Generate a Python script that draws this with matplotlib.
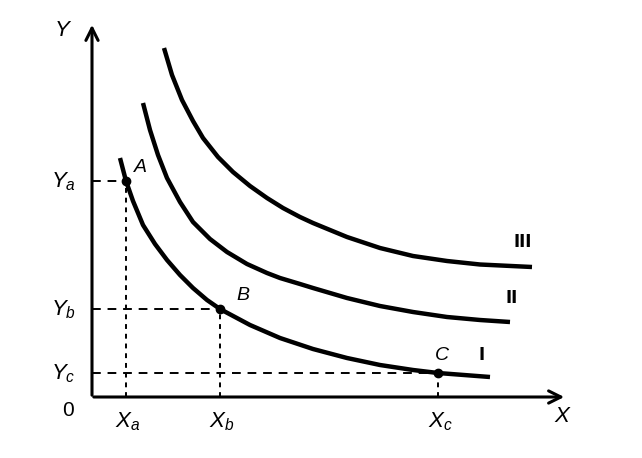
import matplotlib
matplotlib.use("Agg")
import matplotlib.pyplot as plt

plt.rcParams['font.family'] = ['Liberation Sans', 'DejaVu Sans']
plt.rcParams['mathtext.fontset'] = 'custom'
plt.rcParams['mathtext.it'] = 'Liberation Sans:italic'
plt.rcParams['mathtext.rm'] = 'Liberation Sans'

# Indifference curves (origin at axes crossing)
curve_I_x = [28, 34, 41, 51, 63, 75, 88, 101, 115, 128, 158, 188, 221, 255, 288, 321, 346, 398]
curve_I_y = [239, 216, 196, 172, 153, 137, 122, 109, 97, 88, 72, 59, 48, 39, 32, 27, 24, 20]

curve_II_x = [51, 58, 66, 75, 88, 101, 118, 135, 155, 175, 188, 208, 221, 255, 288, 321, 355, 388, 418]
curve_II_y = [294, 267, 242, 219, 195, 175, 158, 145, 133, 124, 119, 113, 109, 99, 91, 85, 80, 77, 75]

curve_III_x = [72, 80, 90, 101, 111, 126, 141, 158, 175, 191, 208, 221, 255, 288, 321, 355, 388, 440]
curve_III_y = [349, 322, 297, 276, 259, 240, 225, 211, 199, 189, 180, 174, 160, 149, 141, 136, 132.5, 130]

point_names = ['A', 'B', 'C']
point_x = [34, 128, 346]
point_y = [216, 88, 24]
x_tick_labels = ['$X_a$', '$X_b$', '$X_c$']
y_tick_labels = ['$Y_a$', '$Y_b$', '$Y_c$']
curve_names = ['I', 'II', 'III']

fig = plt.figure(figsize=(6.42, 4.58), dpi=100)
ax = fig.add_axes([0, 0, 1, 1])
ax.set_xlim(-92, 550)
ax.set_ylim(-61, 397)
ax.axis('off')

# axes with arrows
ax.annotate('', xy=(475, 0), xytext=(-1, 0),
            arrowprops=dict(arrowstyle='->', lw=2.2, color='black', mutation_scale=22))
ax.annotate('', xy=(0, 375), xytext=(0, -1),
            arrowprops=dict(arrowstyle='->', lw=2.2, color='black', mutation_scale=22))

# curves
for cx, cy in [(curve_I_x, curve_I_y), (curve_II_x, curve_II_y), (curve_III_x, curve_III_y)]:
    ax.plot(cx, cy, color='black', lw=3.2, solid_capstyle='butt', solid_joinstyle='round')

# guide lines
for px, py in zip(point_x, point_y):
    ax.plot([0, px], [py, py], color='black', lw=1.4, dashes=(4.5, 3.5))
    ax.plot([px, px], [0, py], color='black', lw=1.4, dashes=(2.5, 2.5))

ax.plot(point_x, point_y, 'o', color='black', ms=6)

# point labels
pt_offsets = [(14, 13), (23, 13), (4, 18)]
for name, px, py, (dx, dy) in zip(point_names, point_x, point_y, pt_offsets):
    ax.text(px + dx, py + dy, name, fontsize=14, style='italic', ha='center', va='center')

# tick labels
for lab, px in zip(x_tick_labels, point_x):
    ax.text(px + 2, -25, lab, fontsize=16, ha='center', va='center')
for lab, py in zip(y_tick_labels, point_y):
    ax.text(-29, py - 1, lab, fontsize=16, ha='center', va='center')

ax.text(-24, -14, '0', fontsize=15, ha='center', va='center')
ax.text(470, -19, 'X', fontsize=16, style='italic', ha='center', va='center')
ax.text(-30, 367, 'Y', fontsize=16, style='italic', ha='center', va='center')

# curve names
name_pos_x = [390, 420, 431]
name_pos_y = [42, 99, 155]
for n, nx, ny in zip(curve_names, name_pos_x, name_pos_y):
    ax.text(nx, ny, n, fontsize=12, fontweight='bold', ha='center', va='center',
            family='Liberation Sans Narrow')

fig.savefig('out.png', dpi=100, facecolor='white')
